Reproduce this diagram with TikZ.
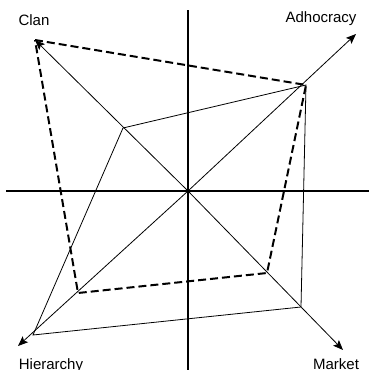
\documentclass[tikz,border=0pt]{standalone}
\usepackage{fontspec}
\setmainfont{Liberation Sans}
\usetikzlibrary{arrows.meta}

\begin{document}
\begin{tikzpicture}[x=1pt, y=-1pt, font=\fontsize{15}{17}\selectfont,
  axisline/.style={line width=2pt},
  ray/.style={line width=0.8pt, -{Stealth[length=10pt, width=8pt, inset=2pt]}},
  profile/.style={line width=0.8pt, line join=miter},
  target/.style={line width=2pt, dash pattern=on 8pt off 4pt, line join=miter},
  lbl/.style={anchor=base, inner sep=0pt}]
\useasboundingbox (0,0) rectangle (368,370);
% axes
\coordinate (top) at (188,10);
\coordinate (bot) at (188,372);
\coordinate (lft) at (6,191);
\coordinate (rgt) at (370,191);
\coordinate (O) at (188,191);
\draw[axisline] (top) -- (bot);
\draw[axisline] (lft) -- (rgt);
% arrow ends
\coordinate (clanEnd) at (35,40);
\coordinate (adhEnd) at (356,34);
\coordinate (hierEnd) at (18,346);
\coordinate (mktEnd) at (343,350);
% current profile
\coordinate (c1) at (123,128);
\coordinate (a1) at (306,85);
\coordinate (m1) at (301,307);
\coordinate (h1) at (33,335);
% preferred profile
\coordinate (a2) at (306,85);
\coordinate (m2) at (267,273);
\coordinate (h2) at (78,293);
\draw[ray] (O) -- (clanEnd);
\draw[ray] (O) -- (adhEnd);
\draw[ray] (O) -- (hierEnd);
\draw[ray] (O) -- (mktEnd);
\draw[profile] (c1) -- (a1) -- (m1) -- (h1) -- cycle;
\draw[target] (clanEnd) -- (a2) -- (m2) -- (h2) -- cycle;
% labels
\node[lbl] (clan) at (34,25) {Clan};
\node[lbl] (adh) at (321,22) {Adhocracy};
\node[lbl] (hier) at (51,369) {Hierarchy};
\node[lbl] (mkt) at (336,369) {Market};
\end{tikzpicture}
\end{document}
